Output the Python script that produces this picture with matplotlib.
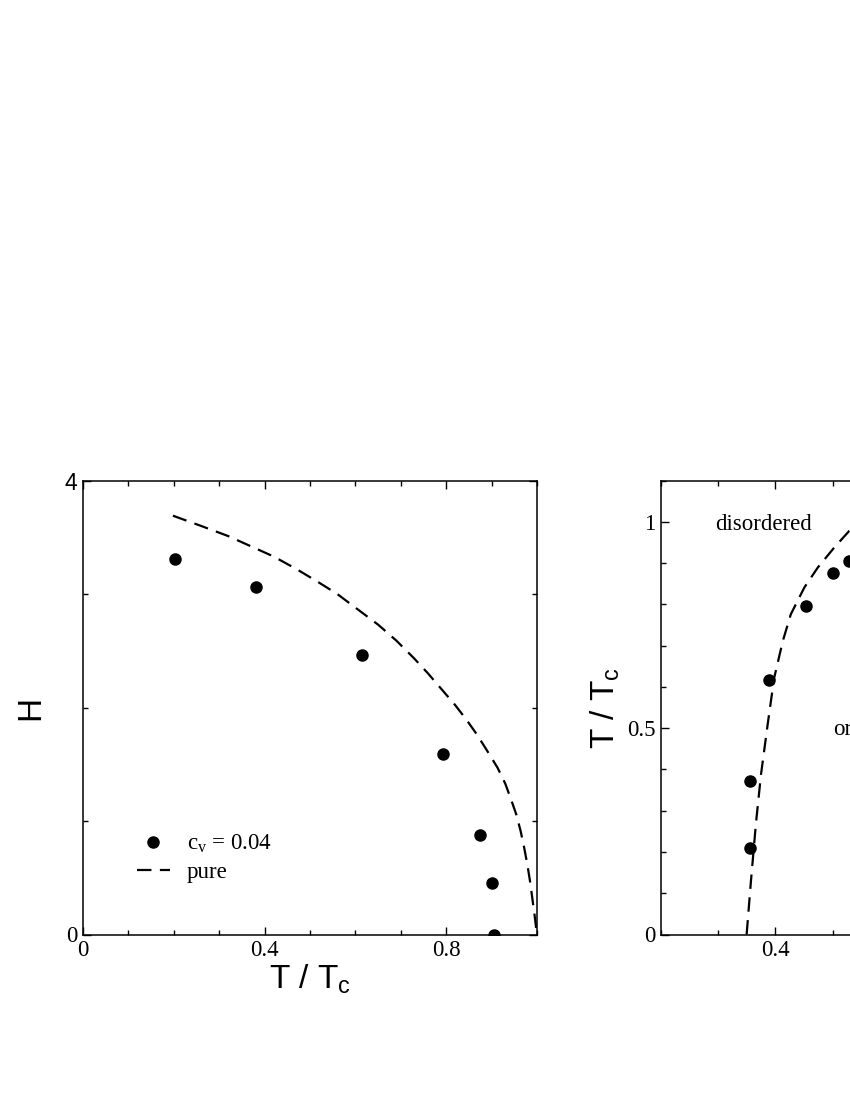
import matplotlib
matplotlib.use("Agg")
import matplotlib.pyplot as plt
from matplotlib.ticker import MultipleLocator, FuncFormatter

plt.rcParams.update({
    "font.family": "Liberation Serif",
    "mathtext.default": "regular",
    "axes.linewidth": 1.1,
    "xtick.direction": "in",
    "ytick.direction": "in",
    "xtick.top": True,
    "ytick.right": True,
    "xtick.major.size": 5.8,
    "ytick.major.size": 5.8,
    "xtick.minor.size": 3.4,
    "ytick.minor.size": 3.4,
    "xtick.major.width": 1.0,
    "ytick.major.width": 1.0,
    "xtick.minor.width": 1.0,
    "ytick.minor.width": 1.0,
    "xtick.labelsize": 16.5,
    "ytick.labelsize": 16.5,
})

# ---- left panel: H vs T/Tc ----
t_dilute = [0.203, 0.382, 0.614, 0.792, 0.874, 0.901, 0.906]
h_dilute = [3.31, 3.06, 2.46, 1.59, 0.88, 0.45, 0.0]

t_pure = [0.198, 0.26, 0.32, 0.37, 0.42, 0.47, 0.52, 0.56, 0.60, 0.65,
          0.69, 0.73, 0.76, 0.79, 0.82, 0.845, 0.868, 0.89, 0.913, 0.93,
          0.942, 0.955, 0.964, 0.972, 0.979, 0.985, 0.990, 0.995, 0.998, 1.0]
h_pure = [3.69, 3.60, 3.51, 3.42, 3.33, 3.22, 3.10, 3.00, 2.88, 2.73,
          2.59, 2.43, 2.30, 2.16, 2.02, 1.89, 1.76, 1.62, 1.47, 1.33,
          1.20, 1.05, 0.91, 0.76, 0.61, 0.46, 0.31, 0.16, 0.06, 0.0]

# ---- right panel: T/Tc vs x (cropped on the right) ----
x_dilute = [0.3557, 0.3563, 0.3895, 0.4536, 0.501, 0.528]
tt_dilute = [0.209, 0.372, 0.617, 0.797, 0.877, 0.904]

x_pure = [0.3499, 0.3574, 0.366, 0.375, 0.3866, 0.398, 0.413, 0.427,
          0.4507, 0.474, 0.503, 0.529, 0.55]
tt_pure = [0.0, 0.129, 0.267, 0.388, 0.509, 0.622, 0.711, 0.776,
           0.841, 0.889, 0.938, 0.978, 0.995]

DASH = (0, (6.5, 3.8))
fmt = FuncFormatter(lambda v, p: f"{v:g}")
SANS = "Liberation Sans"

fig = plt.figure(figsize=(8.5, 11), dpi=100)

ax1 = fig.add_axes([83 / 850, (1100 - 934.5) / 1100, 454 / 850, 454 / 1100])
ax1.plot(t_dilute, h_dilute, "o", color="black", ms=8, label=r"$c_v$ = 0.04")
ax1.plot(t_pure, h_pure, color="black", lw=1.6, linestyle=DASH, label="pure")
ax1.set_xlim(0, 1.0)
ax1.set_ylim(0, 4)
ax1.xaxis.set_major_locator(MultipleLocator(0.4))
ax1.xaxis.set_minor_locator(MultipleLocator(0.1))
ax1.yaxis.set_major_locator(MultipleLocator(4))
ax1.yaxis.set_minor_locator(MultipleLocator(1))
ax1.xaxis.set_major_formatter(fmt)
ax1.yaxis.set_major_formatter(fmt)
ax1.tick_params(axis="both", which="major", pad=4)
ax1.set_xlabel(r"T / T$_c$", fontsize=24, family=SANS, labelpad=1)
ax1.set_ylabel("H", fontsize=24, family=SANS)
ax1.yaxis.set_label_coords(-0.08, 0.5)
fig.canvas.draw()
for lab in ax1.get_yticklabels():
    if lab.get_text() == "4":
        lab.set_family(SANS)

ax1.legend(loc="upper left", bbox_to_anchor=(0.119, 0.224), frameon=False,
           fontsize=16.5, handlelength=1.43, handletextpad=0.74,
           borderpad=0, borderaxespad=0, labelspacing=0.32, numpoints=1)

ax2 = fig.add_axes([660.7 / 850, (1100 - 934.5) / 1100, 454 / 850, 454 / 1100])
ax2.plot(x_pure, tt_pure, color="black", lw=1.6, linestyle=DASH)
ax2.plot(x_dilute, tt_dilute, "o", color="black", ms=8)
ax2.set_xlim(0.2, 0.992)
ax2.set_ylim(0, 1.1)
ax2.xaxis.set_major_locator(MultipleLocator(0.4))
ax2.xaxis.set_minor_locator(MultipleLocator(0.1))
ax2.yaxis.set_major_locator(MultipleLocator(0.5))
ax2.yaxis.set_minor_locator(MultipleLocator(0.1))
ax2.xaxis.set_major_formatter(fmt)
ax2.yaxis.set_major_formatter(fmt)
ax2.tick_params(axis="both", which="major", pad=4)
ax2.set_ylabel(r"T / T$_c$", fontsize=24, family=SANS)
ax2.yaxis.set_label_coords(-0.085, 0.5)
ax2.text(0.295, 0.994, "disordered", fontsize=16.5, ha="left", va="center")
ax2.text(0.501, 0.497, "ordered", fontsize=16.5, ha="left", va="center")

fig.savefig("out.png", dpi=100)
